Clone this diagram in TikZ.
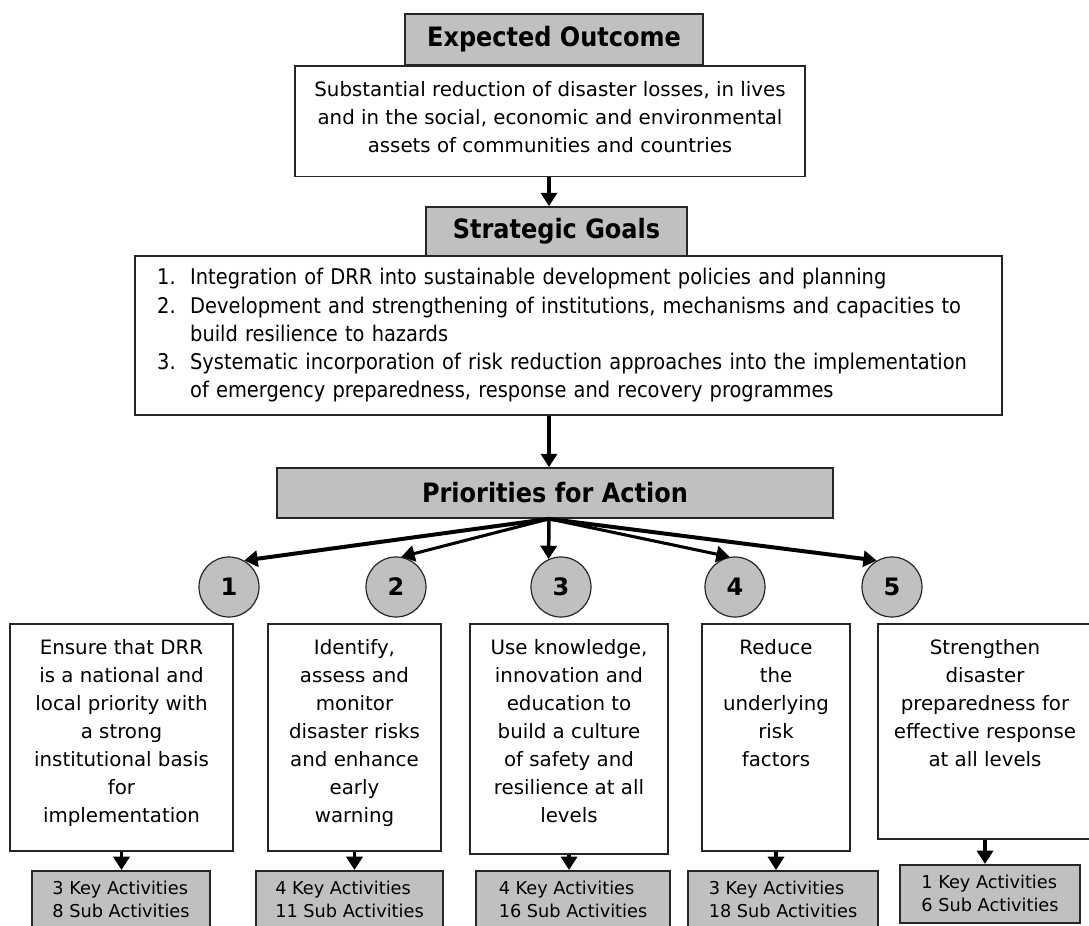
\documentclass[tikz,border=0pt]{standalone}
\usepackage{fontspec}
\setmainfont{DejaVu Sans}
\newfontfamily\condfont{DejaVu Sans Condensed}
\usetikzlibrary{arrows.meta}
\definecolor{boxgrey}{RGB}{192,192,192}

\begin{document}
\begin{tikzpicture}[x=0.75pt, y=-0.75pt,
    title/.style={draw=black!85, line width=1.3pt, fill=boxgrey, inner sep=0pt,
        font=\condfont\bfseries\fontsize{20}{24}\selectfont},
    box/.style={draw=black!85, line width=1.3pt, fill=white, inner xsep=0pt, inner ysep=11.5pt,
        anchor=north, font=\fontsize{14.85}{21}\selectfont},
    goallist/.style={draw=black!85, line width=1.3pt, fill=white, inner xsep=16.5pt, inner ysep=0pt,
        minimum width=650pt, minimum height=119pt, text width=617pt, align=left,
        font=\condfont\fontsize{16.2}{21.2}\selectfont},
    num/.style={circle, draw=black!85, line width=0.9pt, fill=boxgrey, minimum size=45pt,
        inner sep=0pt, font=\bfseries\fontsize{18}{20}\selectfont},
    act/.style={draw=black!85, line width=1.3pt, fill=boxgrey, anchor=north, align=left,
        minimum height=43.5pt, font=\fontsize{13.3}{17.25}\selectfont},
    arr/.style={-{Triangle[length=10pt, width=12pt]}, line width=2.6pt},
]
    \path[use as bounding box] (0,0) rectangle (1089,925);
    \clip (0,0) rectangle (1089,925);
    \coordinate (axis) at (549,0);

    % outcome and goals
    \node[title, minimum width=223.5pt, minimum height=38pt] (eo) at (554,39.5) {Expected Outcome};
    \node[box] (out) at (550,65) {\parbox[t][60pt][t]{382.5pt}{\centering
        Substantial reduction of disaster losses, in lives\\
        and in the social, economic and environmental\\
        assets of communities and countries}};
    \node[title, minimum width=195.75pt, minimum height=36.75pt] (sg) at (556.5,231.5) {Strategic Goals};
    \node[goallist] (goals) at (568.5,335.5) {%
        \makebox[24.75pt][l]{1.}Integration of DRR into sustainable development policies and planning\\
        \makebox[24.75pt][l]{2.}Development and strengthening of institutions, mechanisms and capacities to\\
        \hspace*{24.75pt}build resilience to hazards\\
        \makebox[24.75pt][l]{3.}Systematic incorporation of risk reduction approaches into the implementation\\
        \hspace*{24.75pt}of emergency preparedness, response and recovery programmes};
    \node[title, minimum width=417pt, minimum height=37.5pt] (pa) at (555,493) {Priorities for Action};

    % the five priorities
    \node[num] (c1) at (229,587) {1};
    \node[num] (c2) at (396,587) {2};
    \node[num] (c3) at (561,587) {3};
    \node[num] (c4) at (735,587) {4};
    \node[num] (c5) at (892,587) {5};

    \node[box] (p1) at (121.5,623) {\parbox[t][147.25pt][t]{167.25pt}{\centering
        Ensure that DRR\\ is a national and\\ local priority with\\ a strong\\
        institutional basis\\ for\\ implementation}};
    \node[box] (p2) at (354.5,623) {\parbox[t][147.25pt][t]{129.75pt}{\centering
        Identify,\\ assess and\\ monitor\\ disaster risks\\ and enhance\\ early\\ warning}};
    \node[box] (p3) at (569,623) {\parbox[t][149.5pt][t]{148.5pt}{\centering
        Use knowledge,\\ innovation and\\ education to\\ build a culture\\
        of safety and\\ resilience at all\\ levels}};
    \node[box] (p4) at (776,623) {\parbox[t][147.25pt][t]{111pt}{\centering
        Reduce\\ the\\ underlying\\ risk\\ factors}};
    \node[box] (p5) at (985,623) {\parbox[t][138.25pt][t]{160.5pt}{\centering
        Strengthen\\ disaster\\ preparedness for\\ effective response\\ at all levels}};

    \node[act, minimum width=133.5pt] (k1) at (121,870) {3 Key Activities\\ 8 Sub Activities};
    \node[act, minimum width=140.25pt] (k2) at (349.5,870) {4 Key Activities\\ 11 Sub Activities};
    \node[act, minimum width=145.5pt] (k3) at (573,870) {4 Key Activities\\ 16 Sub Activities};
    \node[act, minimum width=142.5pt] (k4) at (783,870) {3 Key Activities\\ 18 Sub Activities};
    \node[act, minimum width=135pt] (k5) at (990,864) {1 Key Activities\\ 6 Sub Activities};

    % arrows
    \draw[arr] (out.south -| axis) -- (sg.north -| axis);
    \draw[arr] (goals.south -| axis) -- (pa.north -| axis);
    \draw[arr, line width=3pt] (pa.south -| axis) -- (c1.60);
    \draw[arr, line width=2.3pt] (pa.south -| axis) -- (c2.80);
    \draw[arr] (pa.south -| axis) -- (c3.114);
    \draw[arr, line width=2.3pt] (pa.south -| axis) -- (c4.100);
    \draw[arr, line width=3pt] (pa.south -| axis) -- (c5.120);
    \foreach \i in {1,...,5}
        \draw[arr] (p\i.south) -- (p\i.south |- k\i.north);
\end{tikzpicture}
\end{document}
